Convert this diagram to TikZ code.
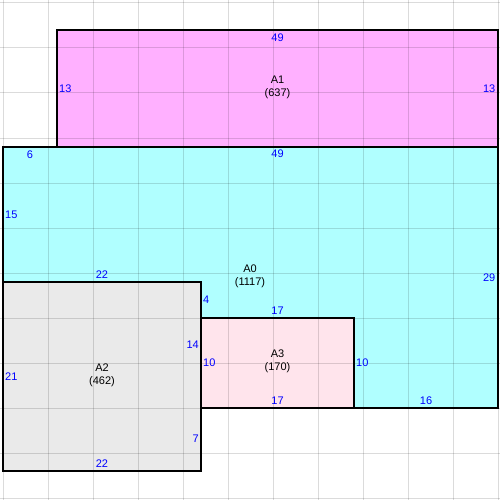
\documentclass[tikz,border=0pt]{standalone}
\usepackage{fontspec}
\setmainfont{Liberation Sans}
\definecolor{cA1}{RGB}{255,176,255}
\definecolor{cA0}{RGB}{176,255,255}
\definecolor{cA2}{RGB}{234,234,234}
\definecolor{cA3}{RGB}{255,228,236}
\definecolor{lblue}{RGB}{0,0,255}
\begin{document}
\begin{tikzpicture}[x=1pt,y=-1pt,
  every node/.style={font=\fontsize{11}{13}\selectfont, inner sep=0pt},
  edgelbl/.style={text=lblue},
  namelbl/.style={align=center, text=black},
  outline/.style={draw=black, line width=1.2pt},
  gridline/.style={draw=black, opacity=0.14, line width=1pt}]
\useasboundingbox (0,0) rectangle (500,500);
\fill[white] (0,0) rectangle (500,500);
% fills
\fill[cA1] (57,30) rectangle (498,147);
\fill[cA0] (3,147) -- (498,147) -- (498,408) -- (354,408) -- (354,318) -- (201,318) -- (201,282) -- (3,282) -- cycle;
\fill[cA2] (3,282) rectangle (201,471);
\fill[cA3] (201,318) rectangle (354,408);
% grid
\foreach \k in {0,...,11} {
  \path[gridline] (3+45*\k,0) -- (3+45*\k,500);
  \path[gridline] (0,3+45*\k) -- (500,3+45*\k);
}
% outlines
\draw[outline] (57,30) rectangle (498,147);
\draw[outline] (3,147) -- (498,147) -- (498,408) -- (354,408) -- (354,318) -- (201,318) -- (201,282) -- (3,282) -- cycle;
\draw[outline] (3,282) rectangle (201,471);
\draw[outline] (201,318) rectangle (354,408);
% A1
\node[namelbl] (nA1) at (277.5,87.5) {A1\\(637)};
\node[edgelbl] (a1t) at (277.5,37.5) {49};
\node[edgelbl,anchor=west] (a1l) at (59,89) {13};
\node[edgelbl,anchor=east] (a1r) at (495.5,89) {13};
% A0
\node[namelbl] (nA0) at (250,276) {A0\\(1117)};
\node[edgelbl] (a0t1) at (30,154.5) {6};
\node[edgelbl] (a0t2) at (277.5,154) {49};
\node[edgelbl,anchor=west] (a0l) at (5,214.5) {15};
\node[edgelbl] (a0b1) at (102,275) {22};
\node[edgelbl,anchor=west] (a0s1) at (203,300) {4};
\node[edgelbl] (a0b2) at (277.5,311) {17};
\node[edgelbl,anchor=west] (a0s2) at (356,363) {10};
\node[edgelbl] (a0b3) at (426,401) {16};
\node[edgelbl,anchor=east] (a0r) at (495.5,277.5) {29};
% A2
\node[namelbl] (nA2) at (102,375) {A2\\(462)};
\node[edgelbl,anchor=west] (a2l) at (5,376.5) {21};
\node[edgelbl,anchor=east] (a2r1) at (199,345) {14};
\node[edgelbl,anchor=east] (a2r2) at (199,439) {7};
\node[edgelbl] (a2b) at (102,464) {22};
% A3
\node[namelbl] (nA3) at (277.5,361.5) {A3\\(170)};
\node[edgelbl,anchor=west] (a3l) at (203,363) {10};
\node[edgelbl] (a3b) at (277.5,401) {17};
\end{tikzpicture}
\end{document}
